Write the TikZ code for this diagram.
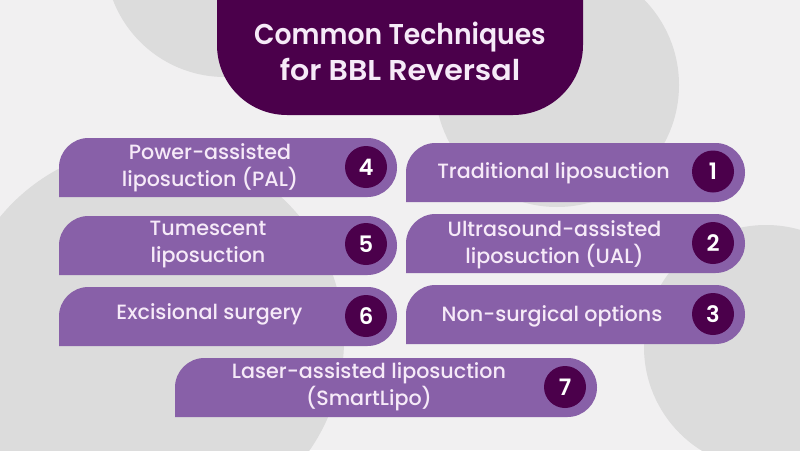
\documentclass[tikz,border=0pt]{standalone}
\usepackage{fontspec}
\setmainfont{Poppins}[UprightFont=* Medium,BoldFont=* SemiBold]
\newfontfamily\titleA{Poppins}[UprightFont=* SemiBold,FakeStretch=0.93]
\newfontfamily\titleB{Poppins}[UprightFont=* SemiBold,FakeStretch=1.05]
\definecolor{bgc}{HTML}{F1F0F1}
\definecolor{blob}{HTML}{DCDCDC}
\definecolor{dark}{HTML}{4B004B}
\definecolor{bar}{HTML}{8860A8}
\definecolor{lbl}{HTML}{F6EAF8}
\tikzset{
  tlabel/.style={text=lbl,align=center,font=\fontsize{15.5}{20.3}\selectfont,inner sep=0pt},
  numc/.style={circle,fill=dark,minimum size=31.5pt,inner sep=0pt,text=white,font=\fontsize{17}{17}\selectfont\bfseries},
  title/.style={text=lbl,align=center,font=\fontsize{21.5}{26.5}\selectfont,inner sep=0pt},
}
\newcommand{\pill}[4]{\fill[bar] (#1,#3) -- (#1,#2+29.5) arc[start angle=180,end angle=270,radius=29.5] -- (#4-29.5,#2) arc[start angle=270,end angle=450,radius=29.5] -- cycle;}
\begin{document}
\begin{tikzpicture}[x=0.75pt,y=-0.75pt]
\useasboundingbox (0,0) rectangle (800,450);
\fill[bgc] (0,0) rectangle (800,450);
\begin{scope}
\clip (0,0) rectangle (800,450);
\fill[blob] (225,-43) circle[radius=120];
\fill[blob] (557,85) circle[radius=122];
\fill[blob] (150,340) circle[radius=194];
\fill[blob] (766,347) circle[radius=122];
\end{scope}
\fill[dark] (217,0) -- (217,45) arc[start angle=180,end angle=90,radius=70] -- (513,115) arc[start angle=90,end angle=0,radius=70] -- (583,0) -- cycle;
\pill{59}{138}{197}{397}
\pill{59}{216}{275}{397}
\pill{59}{287}{346}{397}
\pill{406}{143}{202}{745}
\pill{406}{214}{273}{745}
\pill{406}{285}{344}{745}
\pill{175}{358}{417}{597}
\node[title] (t) at (400,51.5) {{\titleA Common Techniques}\\{\titleB for BBL Reversal}};
\node[tlabel] (a4) at (210,168) {Power-assisted\\liposuction (PAL)};
\node[tlabel] (a5) at (208,244.5) {Tumescent\\liposuction};
\node[tlabel] (a6) at (209.5,314) {Excisional surgery};
\node[tlabel] (a1) at (553.5,173) {Traditional liposuction};
\node[tlabel] (a2) at (554.5,245) {Ultrasound-assisted\\liposuction (UAL)};
\node[tlabel] (a3) at (552,316) {Non-surgical options};
\node[tlabel] (a7) at (369,387) {Laser-assisted liposuction\\(SmartLipo)};
\node[numc] (n4) at (366,167) {4};
\node[numc] (n5) at (366,244) {5};
\node[numc] (n6) at (366,316) {6};
\node[numc] (n1) at (713,171.5) {1};
\node[numc] (n2) at (713,243) {2};
\node[numc] (n3) at (713,314) {3};
\node[numc] (n7) at (565,387) {7};
\end{tikzpicture}
\end{document}
